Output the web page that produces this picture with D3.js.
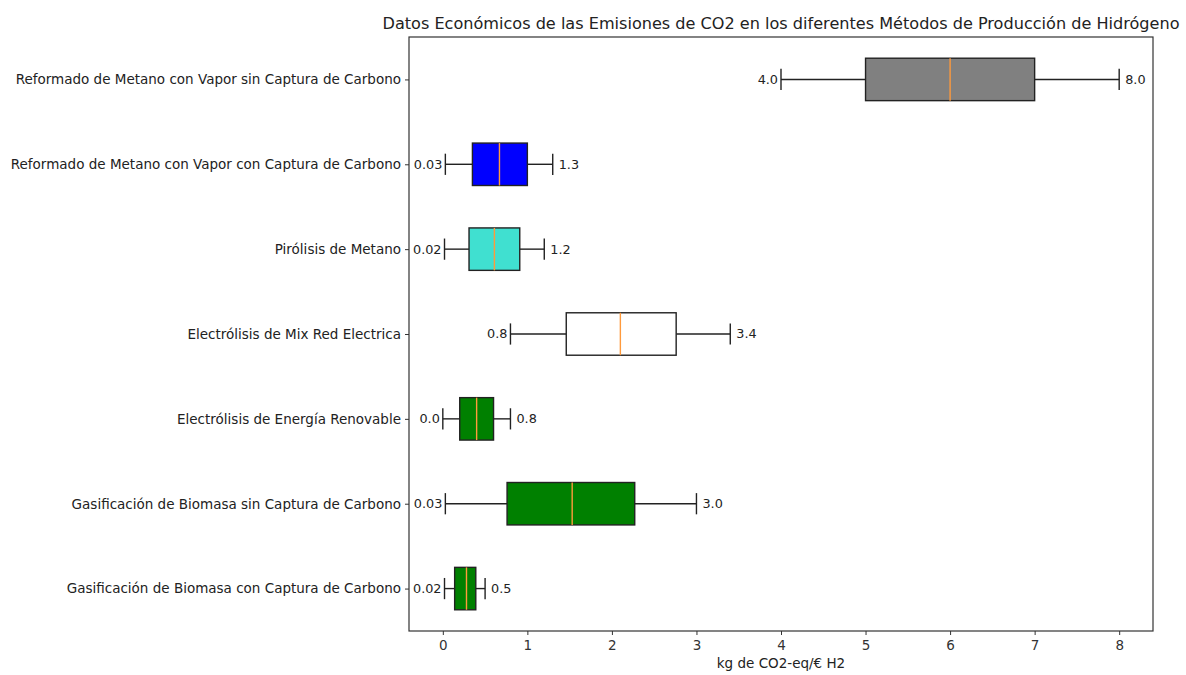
<!DOCTYPE html>
<html><head><meta charset="utf-8">
<script src="https://cdn.jsdelivr.net/npm/d3@7"></script>
<style>body{margin:0;background:#fff}svg{display:block}text{font-family:"DejaVu Sans",sans-serif}</style>
</head><body><svg id="c" width="1186" height="675"></svg>
<script>
const categories = [
  "Reformado de Metano con Vapor sin Captura de Carbono",
  "Reformado de Metano con Vapor con Captura de Carbono",
  "Pirólisis de Metano",
  "Electrólisis de Mix Red Electrica",
  "Electrólisis de Energía Renovable",
  "Gasificación de Biomasa sin Captura de Carbono",
  "Gasificación de Biomasa con Captura de Carbono"
];
const whiskerLow  = [4.0, 0.03, 0.02, 0.8, 0.0, 0.03, 0.02];
const q1          = [5.0, 0.35, 0.31, 1.46, 0.2, 0.76, 0.14];
const medians     = [6.0, 0.67, 0.61, 2.10, 0.4, 1.53, 0.28];
const q3          = [7.0, 1.0, 0.91, 2.76, 0.6, 2.27, 0.39];
const whiskerHigh = [8.0, 1.3, 1.2, 3.4, 0.8, 3.0, 0.5];
const lowLabels   = ["4.0","0.03","0.02","0.8","0.0","0.03","0.02"];
const highLabels  = ["8.0","1.3","1.2","3.4","0.8","3.0","0.5"];
const boxColors   = ["#808080","#0000ff","#40e0d0","#ffffff","#008000","#008000","#008000"];
const xTicks = [0,1,2,3,4,5,6,7,8];
const title = "Datos Económicos de las Emisiones de CO2 en los diferentes Métodos de Producción de Hidrógeno";
const xLabel = "kg de CO2-eq/€ H2";

const svg = d3.select("#c");
const L = 409, R = 1153, T = 37, B = 631;
const x = d3.scaleLinear().domain([-0.4, 8.4]).range([L, R]);
const y = d3.scaleLinear().domain([7.5, 0.5]).range([T, B]);
const pos = categories.map((c,i)=> 7 - i);
const ink = "#333";
const FS = 13.5;
const FSV = 12.8;

// title
svg.append("text").attr("x",(L+R)/2).attr("y",29).attr("text-anchor","middle")
  .attr("font-size",16.1).attr("fill","#222").text(title);

// axes
const xa = svg.append("g").attr("transform",`translate(0,${B})`)
  .call(d3.axisBottom(x).tickValues(xTicks).tickFormat(d3.format("d")).tickSize(4).tickPadding(5));
xa.select(".domain").remove();
xa.selectAll("text").attr("font-size",FS).attr("fill",ink).attr("font-family","DejaVu Sans");
xa.selectAll("line").attr("stroke",ink);

const ya = svg.append("g").attr("transform",`translate(${L},0)`)
  .call(d3.axisLeft(y).tickValues(pos).tickFormat((d,i)=>categories[i]).tickSize(4).tickPadding(4));
ya.select(".domain").remove();
ya.selectAll("text").attr("font-size",FS).attr("fill","#222").attr("font-family","DejaVu Sans");
ya.selectAll("line").attr("stroke",ink);

svg.append("rect").attr("x",L).attr("y",T).attr("width",R-L).attr("height",B-T)
  .attr("fill","none").attr("stroke",ink).attr("stroke-width",1.2);

svg.append("text").attr("x",(L+R)/2).attr("y",668).attr("text-anchor","middle")
  .attr("font-size",FS).attr("fill","#222").text(xLabel);

// boxes
const g = svg.append("g");
categories.forEach((c,i)=>{
  const yc = y(pos[i]);
  const h = y(0) - y(0.5);
  const cap = h/2;
  const row = g.append("g");
  row.append("line").attr("x1",x(whiskerLow[i])).attr("x2",x(q1[i])).attr("y1",yc).attr("y2",yc).attr("stroke","#222").attr("stroke-width",1.4);
  row.append("line").attr("x1",x(q3[i])).attr("x2",x(whiskerHigh[i])).attr("y1",yc).attr("y2",yc).attr("stroke","#222").attr("stroke-width",1.4);
  [whiskerLow[i], whiskerHigh[i]].forEach(v=>{
    row.append("line").attr("x1",x(v)).attr("x2",x(v)).attr("y1",yc-cap/2).attr("y2",yc+cap/2).attr("stroke","#222").attr("stroke-width",1.4);
  });
  row.append("rect").attr("x",x(q1[i])).attr("y",yc-h/2).attr("width",x(q3[i])-x(q1[i])).attr("height",h)
    .attr("fill",boxColors[i]).attr("stroke","#222").attr("stroke-width",1.4);
  row.append("line").attr("x1",x(medians[i])).attr("x2",x(medians[i])).attr("y1",yc-h/2).attr("y2",yc+h/2)
    .attr("stroke","#ff9a3c").attr("stroke-width",1.4);
  row.append("text").attr("x",x(whiskerLow[i])-3).attr("y",yc).attr("dy","0.35em").attr("text-anchor","end")
    .attr("font-size",FSV).attr("fill","#222").text(lowLabels[i]);
  row.append("text").attr("x",x(whiskerHigh[i])+6).attr("y",yc).attr("dy","0.35em").attr("text-anchor","start")
    .attr("font-size",FSV).attr("fill","#222").text(highLabels[i]);
});
</script></body></html>
